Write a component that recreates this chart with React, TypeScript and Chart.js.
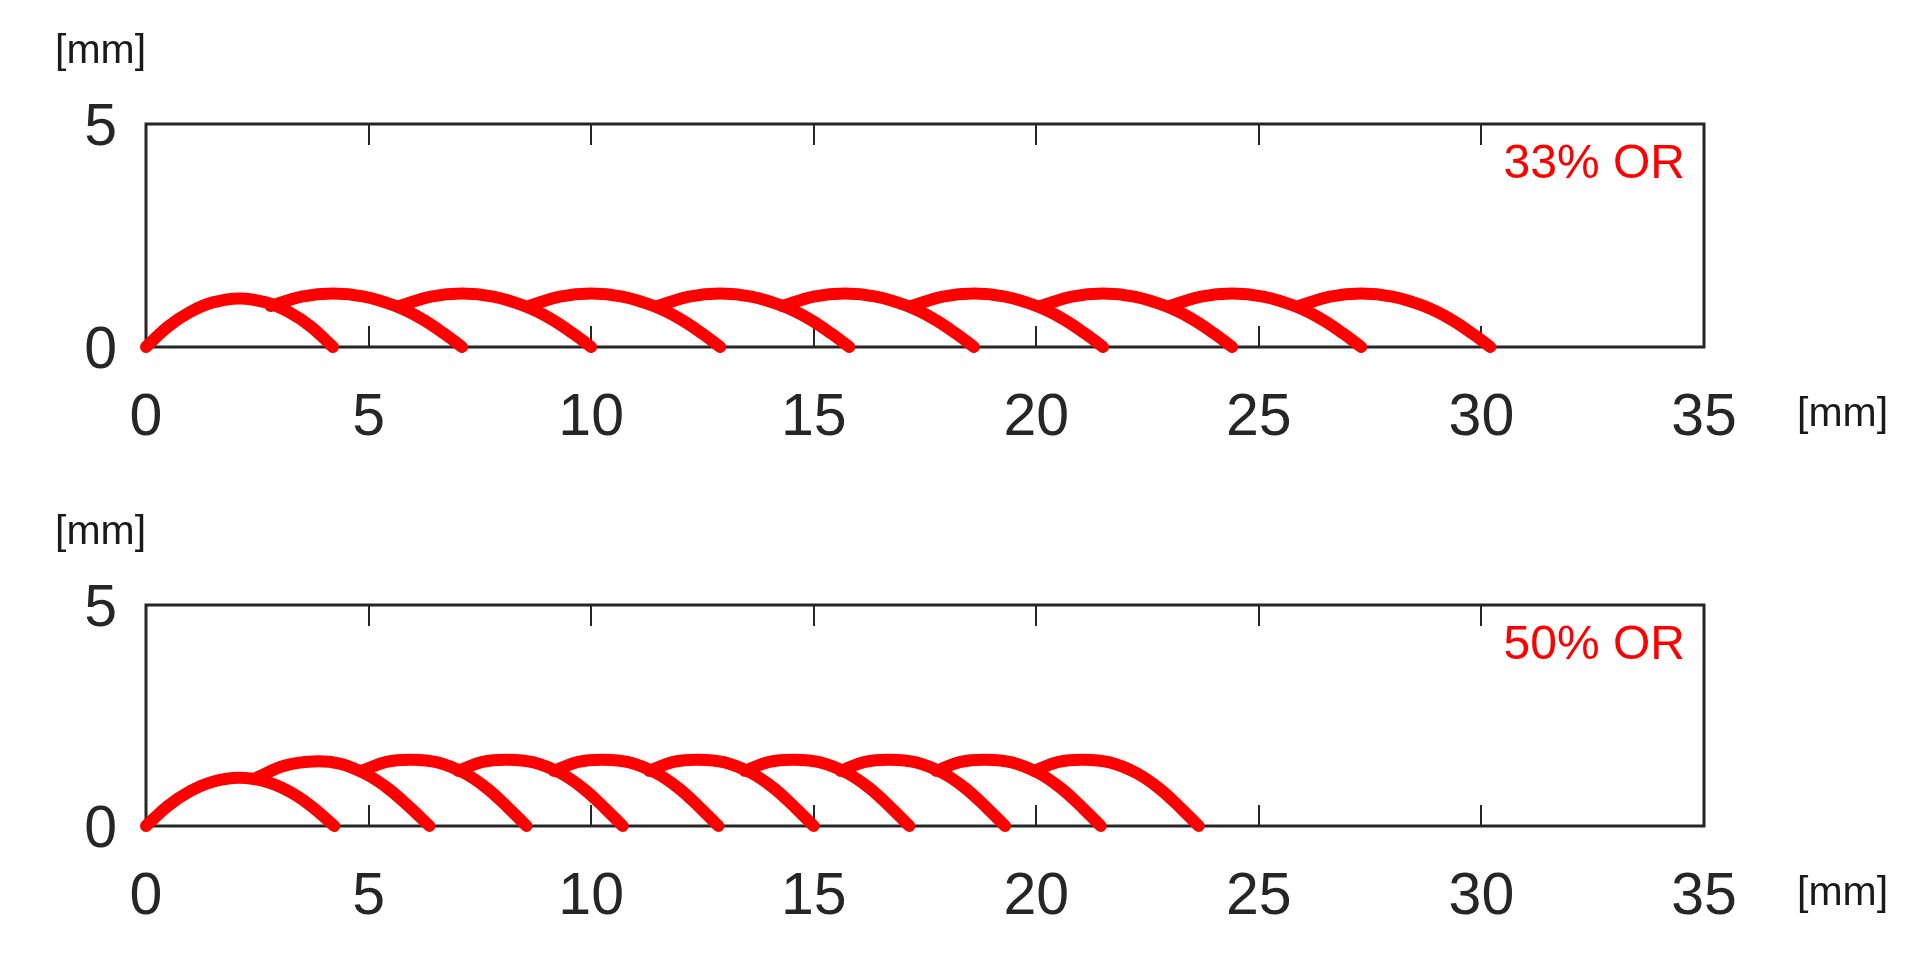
import React, { useEffect, useRef } from 'react';
import { Chart, registerables } from 'chart.js';

Chart.register(...registerables);

// ---------- data ----------
const xTicks = [0, 5, 10, 15, 20, 25, 30, 35];
const yTicks = [0, 5];
const panelLabels = ['33% OR', '50% OR'];
const unitLabel = '[mm]';

// bead profiles, 33% overlap ratio: [x, y] in mm
const beads33: number[][][] = [
  [[0, 0], [0.5, 0.46], [1.0, 0.79], [1.5, 1.0], [2.1, 1.09], [2.7, 1.0], [3.2, 0.79], [3.7, 0.46], [4.2, 0]],
  [[2.8, 0.92], [3.5, 1.13], [4.2, 1.2], [4.9, 1.13], [5.6, 0.92], [6.2, 0.63], [6.7, 0.3], [7.1, 0]],
  [[5.7, 0.92], [6.4, 1.13], [7.1, 1.2], [7.8, 1.13], [8.5, 0.92], [9.1, 0.63], [9.6, 0.3], [10.0, 0]],
  [[8.6, 0.92], [9.3, 1.13], [10.0, 1.2], [10.7, 1.13], [11.4, 0.92], [12.0, 0.63], [12.5, 0.3], [12.9, 0]],
  [[11.5, 0.92], [12.2, 1.13], [12.9, 1.2], [13.6, 1.13], [14.3, 0.92], [14.9, 0.63], [15.4, 0.3], [15.8, 0]],
  [[14.3, 0.92], [15.0, 1.13], [15.7, 1.2], [16.4, 1.13], [17.1, 0.92], [17.7, 0.63], [18.2, 0.3], [18.6, 0]],
  [[17.2, 0.92], [17.9, 1.13], [18.6, 1.2], [19.3, 1.13], [20.0, 0.92], [20.6, 0.63], [21.1, 0.3], [21.5, 0]],
  [[20.1, 0.92], [20.8, 1.13], [21.5, 1.2], [22.2, 1.13], [22.9, 0.92], [23.5, 0.63], [24.0, 0.3], [24.4, 0]],
  [[23.0, 0.92], [23.7, 1.13], [24.4, 1.2], [25.1, 1.13], [25.8, 0.92], [26.4, 0.63], [26.9, 0.3], [27.3, 0]],
  [[25.9, 0.92], [26.6, 1.13], [27.3, 1.2], [28.0, 1.13], [28.7, 0.92], [29.3, 0.63], [29.8, 0.3], [30.2, 0]],
];

// bead profiles, 50% overlap ratio: [x, y] in mm
const beads50: number[][][] = [
  [[0, 0], [0.5, 0.46], [1.0, 0.79], [1.5, 1.0], [2.1, 1.09], [2.7, 1.0], [3.2, 0.79], [3.7, 0.46], [4.23, 0]],
  [[2.5, 1.1], [3.1, 1.36], [3.75, 1.46], [4.35, 1.41], [4.95, 1.17], [5.45, 0.84], [5.95, 0.4], [6.37, 0]],
  [[4.85, 1.25], [5.4, 1.45], [5.95, 1.5], [6.55, 1.44], [7.15, 1.2], [7.65, 0.86], [8.15, 0.4], [8.55, 0]],
  [[7.01, 1.25], [7.56, 1.45], [8.11, 1.5], [8.71, 1.44], [9.31, 1.2], [9.81, 0.86], [10.31, 0.4], [10.71, 0]],
  [[9.16, 1.25], [9.71, 1.45], [10.26, 1.5], [10.86, 1.44], [11.46, 1.2], [11.96, 0.86], [12.46, 0.4], [12.86, 0]],
  [[11.3, 1.25], [11.85, 1.45], [12.4, 1.5], [13.0, 1.44], [13.6, 1.2], [14.1, 0.86], [14.6, 0.4], [15.0, 0]],
  [[13.45, 1.25], [14.0, 1.45], [14.55, 1.5], [15.15, 1.44], [15.75, 1.2], [16.25, 0.86], [16.75, 0.4], [17.15, 0]],
  [[15.6, 1.25], [16.15, 1.45], [16.7, 1.5], [17.3, 1.44], [17.9, 1.2], [18.4, 0.86], [18.9, 0.4], [19.3, 0]],
  [[17.75, 1.25], [18.3, 1.45], [18.85, 1.5], [19.45, 1.44], [20.05, 1.2], [20.55, 0.86], [21.05, 0.4], [21.45, 0]],
  [[19.95, 1.25], [20.5, 1.45], [21.05, 1.5], [21.65, 1.44], [22.25, 1.2], [22.75, 0.86], [23.25, 0.4], [23.65, 0]],
];

// ---------- styling ----------
const FONT = '"Liberation Sans", Arial, Helvetica, sans-serif';
const AXIS_COLOR = '#262626';
const CURVE_COLOR = '#ff0000';

const framePlugin = {
  id: 'frame',
  beforeDatasetsDraw(chart: any) {
    const { ctx, chartArea: a, scales } = chart;
    ctx.save();
    ctx.strokeStyle = AXIS_COLOR;
    ctx.lineWidth = 2;
    const tickLen = 21;
    scales.x.ticks.forEach((t: any) => {
      const px = Math.round(scales.x.getPixelForValue(t.value));
      ctx.beginPath();
      ctx.moveTo(px, a.bottom);
      ctx.lineTo(px, a.bottom - tickLen);
      ctx.moveTo(px, a.top);
      ctx.lineTo(px, a.top + tickLen);
      ctx.stroke();
    });
    ctx.lineWidth = 3;
    ctx.strokeRect(a.left, a.top, a.right - a.left, a.bottom - a.top);
    ctx.restore();
  },
  afterDraw(chart: any, _args: any, opts: any) {
    const { ctx, chartArea: a } = chart;
    ctx.save();
    ctx.fillStyle = CURVE_COLOR;
    ctx.font = `48px ${FONT}`;
    ctx.textAlign = 'right';
    ctx.textBaseline = 'alphabetic';
    ctx.fillText(opts.label, a.right - 19, a.top + 54);
    ctx.fillStyle = '#1a1a1a';
    ctx.font = `41px ${FONT}`;
    ctx.textAlign = 'left';
    ctx.textBaseline = 'middle';
    ctx.fillText(opts.unit, 55, a.top - 72);
    ctx.fillText(opts.unit, 1797, a.bottom + 68);
    ctx.restore();
  },
};

function Panel(props: { beads: number[][][]; label: string; top: number; height: number; areaTop: number; areaBottom: number }) {
  const ref = useRef<HTMLCanvasElement | null>(null);
  useEffect(() => {
    if (!ref.current) return;
    const chart = new Chart(ref.current, {
      type: 'line',
      data: {
        datasets: props.beads.map((bead) => ({
          data: bead.map((p) => ({ x: p[0], y: p[1] })),
          borderColor: CURVE_COLOR,
          borderWidth: 12,
          pointRadius: 0,
          fill: false,
          tension: 0.4,
          borderCapStyle: 'round' as const,
          borderJoinStyle: 'round' as const,
          clip: false as any,
        })),
      },
      options: {
        animation: false,
        responsive: false,
        devicePixelRatio: 1,
        layout: { padding: { top: props.areaTop, right: 1928 - 1704, left: 0, bottom: 0 } },
        plugins: {
          legend: { display: false },
          tooltip: { enabled: false },
          frame: { label: props.label, unit: unitLabel },
        } as any,
        scales: {
          x: {
            type: 'linear',
            min: xTicks[0],
            max: xTicks[xTicks.length - 1],
            afterBuildTicks: (scale: any) => {
              scale.ticks = xTicks.map((v) => ({ value: v }));
            },
            afterFit: (scale: any) => {
              scale.height = props.height - props.areaBottom;
            },
            grid: { display: false },
            border: { display: false },
            ticks: {
              padding: 28,
              color: AXIS_COLOR,
              font: { family: FONT, size: 59 },
              maxRotation: 0,
              autoSkip: false,
            },
          },
          y: {
            type: 'linear',
            min: yTicks[0],
            max: yTicks[yTicks.length - 1],
            afterBuildTicks: (scale: any) => {
              scale.ticks = yTicks.map((v) => ({ value: v }));
            },
            afterFit: (scale: any) => {
              scale.width = 146;
            },
            grid: { display: false },
            border: { display: false },
            ticks: {
              padding: 21,
              labelOffset: 5,
              color: AXIS_COLOR,
              font: { family: FONT, size: 59 },
            },
          },
        },
      },
      plugins: [framePlugin],
    } as any);
    return () => chart.destroy();
  }, []);
  return (
    <canvas
      ref={ref}
      width={1928}
      height={props.height}
      style={{ position: 'absolute', left: 0, top: props.top, width: 1928, height: props.height }}
    />
  );
}

export default function App() {
  return (
    <div style={{ position: 'absolute', left: 0, top: 0, width: 1928, height: 970, background: '#ffffff', overflow: 'hidden' }}>
      <Panel beads={beads33} label={panelLabels[0]} top={0} height={480} areaTop={124} areaBottom={347} />
      <Panel beads={beads50} label={panelLabels[1]} top={480} height={490} areaTop={125} areaBottom={346} />
    </div>
  );
}
